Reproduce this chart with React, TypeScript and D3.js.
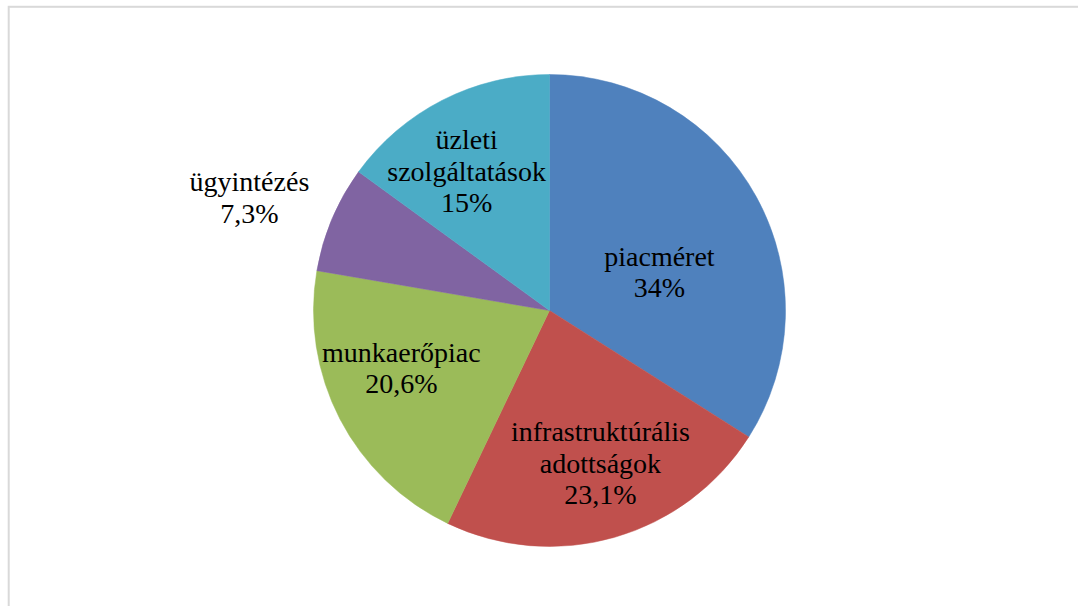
import React from "react";
import * as d3 from "d3";

const categories = ["piacméret", "infrastruktúrális adottságok", "munkaerőpiac", "ügyintézés", "üzleti szolgáltatások"];
const values = [34, 23.1, 20.6, 7.3, 15];
const valueLabels = ["34%", "23,1%", "20,6%", "7,3%", "15%"];
// label text split into lines, as Excel wrapped them
const labelLines = [["piacméret"], ["infrastruktúrális", "adottságok"], ["munkaerőpiac"], ["ügyintézés"], ["üzleti", "szolgáltatások"]];
const colors = ["#4F81BD", "#C0504D", "#9BBB59", "#8064A2", "#4BACC6"];

// label placement: angle shift from slice mid-angle (deg) and radius as a fraction of R
const labelPlace = [
  { da: 9.7, r: 0.493 },
  { da: -2.4, r: 0.683 },
  { da: 6.0, r: 0.674 },
  { da: -2.3, r: 1.358 },
  { da: -3.8, r: 0.686 },
];

const W = 1078;
const H = 606;
const cx = 549.5;
const cy = 310.5;
const R = 236;
const fontSize = 28;
const lineH = 31.5;

export default function App() {
  const pie = d3.pie<number>().sort(null).value((d) => d);
  const arcs = pie(values);
  const arc = d3.arc<d3.PieArcDatum<number>>().innerRadius(0).outerRadius(R);

  return (
    <svg width={W} height={H} style={{ position: "fixed", left: 0, top: 0 }}>
      <rect x={0} y={0} width={W} height={H} fill="#fff" />
      <rect x={8.7} y={6.8} width={W + 50} height={H + 50} fill="none" stroke="#D9D9D9" strokeWidth={2} />
      <g transform={`translate(${cx},${cy})`}>
        {arcs.map((a, i) => (
          <path key={categories[i]} d={arc(a) || ""} fill={colors[i]} stroke={colors[i]} strokeWidth={0.5} />
        ))}
        {arcs.map((a, i) => {
          const mid = (a.startAngle + a.endAngle) / 2 + (labelPlace[i].da * Math.PI) / 180;
          const rr = labelPlace[i].r * R;
          const x = rr * Math.sin(mid);
          const y = -rr * Math.cos(mid);
          const lines = [...labelLines[i], valueLabels[i]];
          const y0 = y - ((lines.length - 1) * lineH) / 2;
          return (
            <text
              key={categories[i]}
              textAnchor="middle"
              style={{ fontFamily: '"Times New Roman", Times, "Liberation Serif", Tinos, "DejaVu Serif", "Noto Serif", serif', fontSize: fontSize }}
              fill="#000"
            >
              {lines.map((l, j) => (
                <tspan key={j} x={x} y={y0 + j * lineH} dy="0.33em">
                  {l}
                </tspan>
              ))}
            </text>
          );
        })}
      </g>
    </svg>
  );
}
